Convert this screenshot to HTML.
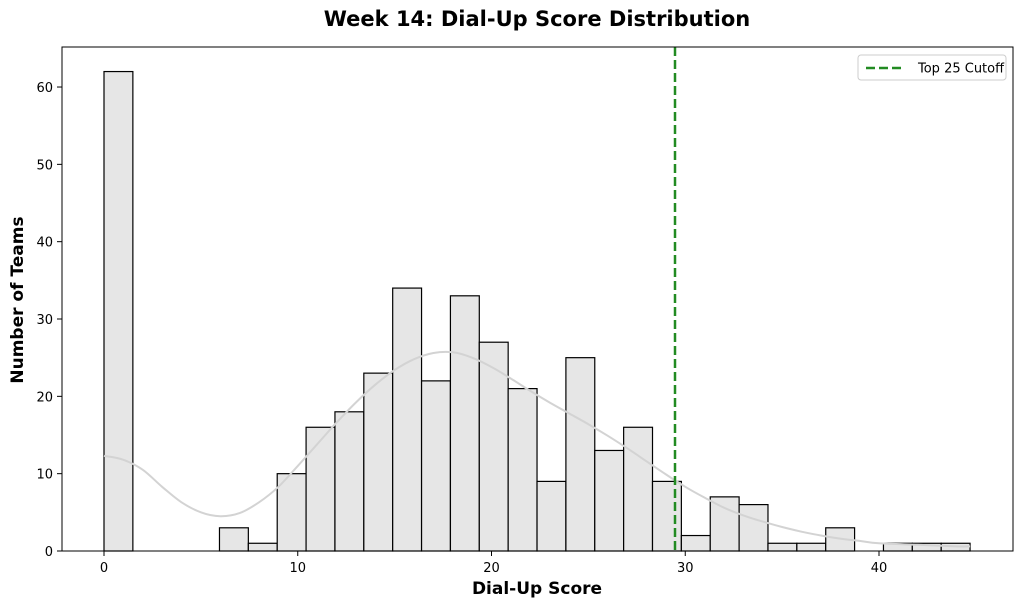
<!DOCTYPE html>
<html><head><meta charset="utf-8"><style>
body{margin:0;background:#fff;}
svg{display:block;font-family:"DejaVu Sans","Liberation Sans",sans-serif;}
</style></head><body>
<svg id="s" width="1024" height="608" xmlns="http://www.w3.org/2000/svg">
<text x="537" y="26" font-size="21" font-weight="bold" text-anchor="middle">Week 14: Dial-Up Score Distribution</text>
<g id="bars"></g>
<path id="kde" fill="none" stroke="#d3d3d3" stroke-width="2"/>
<line x1="675" y1="47" x2="675" y2="551" stroke="#228b22" stroke-width="2.5" stroke-dasharray="9,4"/>
<rect x="62" y="47" width="951" height="504" fill="none" stroke="#000" stroke-width="1"/>
<g id="ticks" font-size="13"></g>
<text x="537" y="594" font-size="17" font-weight="bold" text-anchor="middle">Dial-Up Score</text>
<text transform="translate(23,300) rotate(-90)" font-size="17" font-weight="bold" text-anchor="middle">Number of Teams</text>
<rect x="858" y="55" width="148" height="25" rx="3" fill="#fff" stroke="#ccc"/>
<line x1="866" y1="68" x2="904" y2="68" stroke="#228b22" stroke-width="2.5" stroke-dasharray="9,4"/>
<text x="918" y="72.5" font-size="13">Top 25 Cutoff</text>
</svg>
<script>
var X=function(u){return 104+u*19.375},Y=function(v){return 551-v*7.733};
var counts=[62,0,0,0,3,1,10,16,18,23,34,22,33,27,21,9,25,13,16,9,2,7,6,1,1,3,0,1,1,1];
var w=1.49,h='';
counts.forEach(function(c,i){if(c>0){var x0=X(i*w),x1=X((i+1)*w);h+='<rect x="'+x0+'" y="'+Y(c)+'" width="'+(x1-x0)+'" height="'+(c*7.733)+'" fill="#e6e6e6" stroke="#000" stroke-width="1.2"/>';}});
document.getElementById('bars').innerHTML=h;
var k=[[0,12.3],[1,11.8],[2,10.5],[3,8.3],[4,6.3],[5,5],[6,4.5],[7,4.9],[8,6.3],[9,8.3],[10,11],[11,13.8],[12,16.6],[13,19.2],[14,21.5],[15,23.4],[16,24.8],[17,25.6],[18,25.7],[19,25],[20,23.8],[21,22.3],[22,20.7],[23,19.2],[24,17.8],[25,16.4],[26,14.9],[27,13.3],[28,11.6],[29,9.9],[30,8.3],[31,6.9],[32,5.6],[33,4.6],[34,3.8],[35,3.1],[36,2.5],[37,2],[38,1.6],[39,1.3],[40,1],[42,0.8],[44,0.6],[44.7,0.6]];
var P=k.map(function(p){return [X(p[0]),Y(p[1])]});
var d='M'+P[0][0].toFixed(1)+','+P[0][1].toFixed(1);
for(var i=0;i<P.length-1;i++){var p0=P[i-1]||P[i],p1=P[i],p2=P[i+1],p3=P[i+2]||p2;
d+=' C'+(p1[0]+(p2[0]-p0[0])/6).toFixed(1)+','+(p1[1]+(p2[1]-p0[1])/6).toFixed(1)+' '+(p2[0]-(p3[0]-p1[0])/6).toFixed(1)+','+(p2[1]-(p3[1]-p1[1])/6).toFixed(1)+' '+p2[0].toFixed(1)+','+p2[1].toFixed(1);}
document.getElementById('kde').setAttribute('d',d);
var t='';
for(var v=0;v<=60;v+=10){var y=Y(v);t+='<line x1="57" x2="62" y1="'+y+'" y2="'+y+'" stroke="#000"/><text x="53" y="'+(y+5)+'" text-anchor="end">'+v+'</text>';}
for(var u=0;u<=40;u+=10){var x=X(u);t+='<line x1="'+x+'" x2="'+x+'" y1="551" y2="556" stroke="#000"/><text x="'+x+'" y="572" text-anchor="middle">'+u+'</text>';}
document.getElementById('ticks').innerHTML=t;
</script>
</body></html>
